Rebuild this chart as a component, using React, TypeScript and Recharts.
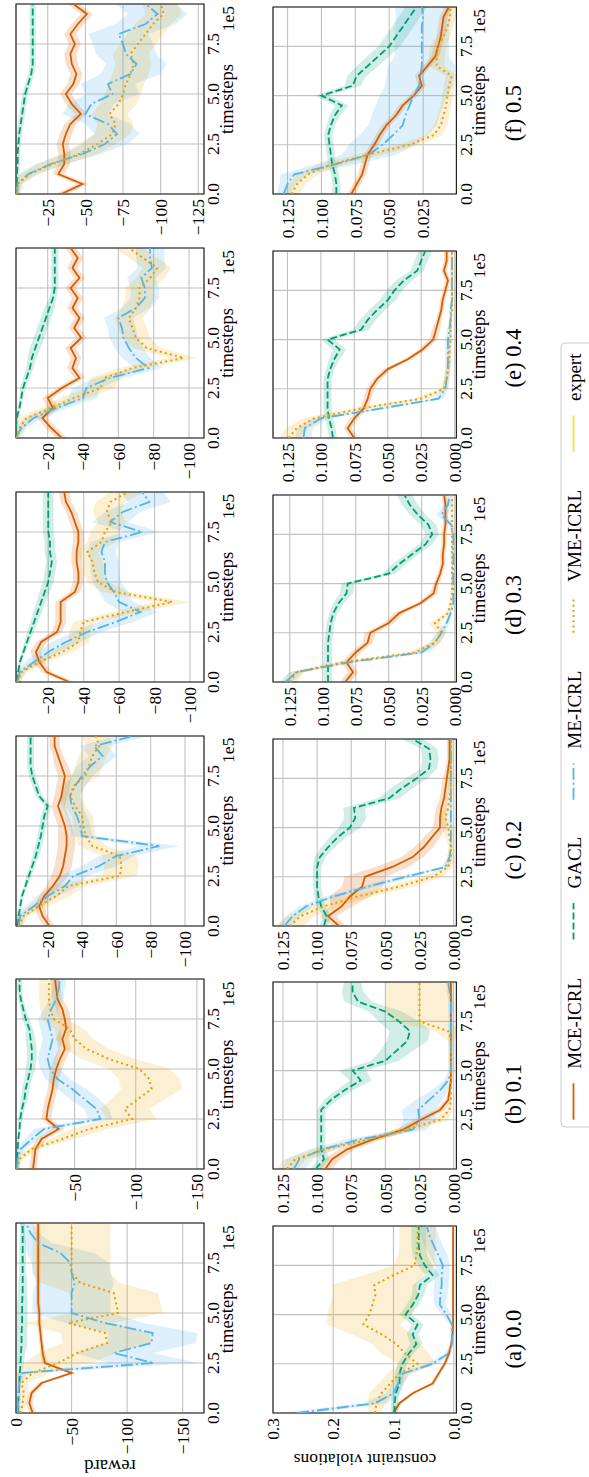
import React from 'react';
import { ComposedChart, Line, Area, XAxis, YAxis, CartesianGrid, ReferenceArea } from 'recharts';

const FONT = "'Liberation Serif', 'DejaVu Serif', serif";
const C = { mce: '#d55e00', gacl: '#009e73', me: '#56b4e9', vme: '#e69f00', expert: '#f0e442' };

// timesteps (x 1e5)
const X = [0, 0.5, 1, 1.5, 2, 2.5, 3, 3.5, 4, 4.5, 5, 5.5, 6, 6.5, 7, 7.5, 8, 8.5, 9, 9.5];

const SERIES_NAMES = ['MCE-ICRL', 'GACL', 'ME-ICRL', 'VME-ICRL', 'expert'];
const CAPTIONS = ['(a) 0.0', '(b) 0.1', '(c) 0.2', '(d) 0.3', '(e) 0.4', '(f) 0.5'];

// ---------- reward (top row) ----------
const rewA_mce = [-15, -12, -14, -23, -50, -26, -24, -23, -22, -21, -21, -20, -20, -20, -20, -20, -20, -20, -20, -20];
const rewA_mce_sd = [3, 3, 3, 3, 4, 3, 2, 2, 2, 2, 2, 2, 2, 2, 2, 2, 2, 2, 2, 2];
const rewA_gacl = [-2, -2, -2.5, -3, -3.5, -4, -4.5, -5, -5, -5.5, -5.5, -5.5, -6, -6, -6, -6, -6, -6, -6, -6];
const rewA_gacl_sd = [1, 1, 1, 1, 2, 3, 4, 5, 5, 5, 5, 5, 4, 4, 3, 3, 3, 3, 2, 2];
const rewA_me = [-1.5, -2, -2, -3, -5, -124, -88, -122, -123, -80, -50, -50, -50, -53, -50, -49, -40, -20, -13, -9];
const rewA_me_sd = [2, 2, 2, 2, 5, 40, 35, 40, 40, 35, 35, 35, 35, 35, 35, 35, 30, 12, 8, 6];
const rewA_vme = [-4, -6, -7, -5, -15, -38, -55, -82, -80, -47, -92, -90, -88, -58, -50, -50, -50, -50, -50, -50];
const rewA_vme_sd = [3, 3, 4, 6, 15, 30, 35, 40, 40, 40, 40, 40, 40, 35, 35, 35, 35, 35, 35, 35];

const rewB_mce = [-16, -17, -18, -23, -37, -27, -28, -30, -32, -33, -35, -38, -42, -40, -43, -42, -40, -36, -35, -34];
const rewB_mce_sd = [3, 3, 3, 4, 5, 4, 4, 4, 4, 4, 5, 5, 5, 5, 5, 5, 5, 4, 4, 4];
const rewB_gacl = [-2.5, -3, -3.5, -4, -5, -5.5, -7, -9, -10, -12, -14, -15, -15, -14, -13, -10, -8, -6, -5, -5];
const rewB_gacl_sd = [1, 1, 1, 1, 1.5, 2, 2, 3, 3, 3, 4, 4, 4, 4, 3, 3, 2, 2, 2, 2];
const rewB_me = [-3, -3.5, -6, -15, -25, -71, -68, -58, -48, -36, -30, -28, -30, -32, -30, -28, -31, -35, -37, -38];
const rewB_me_sd = [2, 2, 3, 6, 8, 10, 10, 12, 12, 10, 8, 8, 8, 8, 8, 8, 6, 6, 5, 5];
const rewB_vme = [-3, -5, -15, -40, -62, -97, -91, -102, -113, -111, -103, -78, -60, -50, -46, -33, -30, -29, -29, -29];
const rewB_vme_sd = [2, 3, 5, 10, 15, 20, 20, 22, 25, 25, 25, 22, 18, 15, 12, 10, 8, 8, 8, 8];

const rewC_mce = [-21, -17, -15, -18, -23, -27, -29, -30, -31, -31, -30, -28, -26, -28, -29, -30, -28, -26, -24, -24];
const rewC_mce_sd = [3, 3, 3, 3, 4, 5, 5, 5, 5, 5, 4, 4, 4, 4, 4, 4, 4, 3, 3, 3];
const rewC_gacl = [-2.5, -3, -4, -5, -7, -9, -11, -13, -14.5, -16, -17, -18, -20, -15, -13, -11, -10, -10, -10, -10];
const rewC_gacl_sd = [1, 1, 1, 1, 1, 1.5, 1.5, 2, 2, 2, 2, 2, 2, 2, 2, 2, 2, 2, 2, 2];
const rewC_me = [-3, -4, -12, -20, -30, -35, -50, -60, -85, -40, -39, -37, -34, -33, -36, -40, -45, -52, -47, -70];
const rewC_me_sd = [2, 3, 5, 6, 8, 8, 10, 10, 12, 6, 6, 6, 6, 6, 6, 6, 8, 8, 8, 10];
const rewC_vme = [-3, -6, -15, -25, -32, -62, -63, -62, -46, -42, -41, -40, -36, -33, -35, -42, -44, -46, -50, -48];
const rewC_vme_sd = [2, 3, 6, 8, 10, 10, 10, 10, 8, 6, 6, 6, 6, 6, 6, 8, 8, 8, 8, 8];

const rewD_mce = [-32, -19, -15, -13, -16, -25, -27, -27, -27, -35, -37, -37, -36, -36, -37, -37, -35, -33, -30, -29];
const rewD_mce_sd = [3, 3, 3, 3, 3, 3, 3, 3, 3, 3, 3, 3, 3, 3, 3, 3, 3, 3, 3, 3];
const rewD_gacl = [-2.5, -3, -4, -6, -8, -10, -12, -14, -16, -18, -20, -21, -22, -21, -21, -20, -20, -20, -20, -20];
const rewD_gacl_sd = [1, 1, 1, 1, 1.5, 2, 2, 2.5, 2.5, 3, 3, 3, 3, 3, 3, 3, 3, 3, 3, 3];
const rewD_me = [-2.5, -4, -12, -20, -30, -42, -58, -72, -60, -57, -53, -52, -52, -50, -52, -73, -55, -62, -77, -73];
const rewD_me_sd = [2, 3, 5, 6, 8, 8, 10, 10, 8, 8, 8, 8, 8, 8, 8, 10, 10, 10, 12, 12];
const rewD_vme = [-2.5, -5, -15, -28, -37, -38, -40, -64, -90, -58, -48, -46, -45, -42, -50, -52, -56, -53, -55, -65];
const rewD_vme_sd = [2, 3, 5, 6, 6, 6, 6, 8, 10, 8, 6, 6, 6, 6, 8, 8, 8, 8, 8, 10];

const rewE_mce = [-28, -22, -17, -23, -20, -28, -38, -34, -36, -33, -39, -35, -38, -34, -37, -33, -38, -34, -37, -33];
const rewE_mce_sd = [3, 3, 3, 3, 3, 3, 3, 3, 3, 3, 3, 3, 3, 3, 3, 3, 3, 3, 3, 3];
const rewE_gacl = [-2, -2, -2.5, -4, -5, -6, -8, -10, -11, -13, -15, -17, -19, -21, -23, -24, -24, -24, -24, -24];
const rewE_gacl_sd = [1, 1, 1, 1, 1, 1.5, 2, 2, 2.5, 3, 3, 3, 3, 3, 2, 2, 2, 2, 2, 2];
const rewE_me = [-2, -5, -12, -25, -40, -42, -55, -77, -70, -66, -63, -62, -60, -70, -75, -75, -73, -79, -78, -78];
const rewE_me_sd = [2, 3, 5, 6, 8, 8, 8, 8, 8, 8, 8, 8, 8, 8, 8, 8, 8, 8, 8, 8];
const rewE_vme = [-2, -4, -8, -22, -35, -50, -52, -68, -97, -76, -70, -68, -66, -70, -72, -72, -78, -82, -74, -66];
const rewE_vme_sd = [2, 3, 5, 6, 8, 8, 8, 8, 8, 8, 8, 8, 8, 8, 8, 8, 8, 8, 8, 8];

const rewF_mce = [-34, -48, -32, -36, -36, -35, -37, -40, -47, -41, -37, -42, -44, -41, -40, -43, -40, -45, -51, -42];
const rewF_mce_sd = [4, 4, 4, 4, 4, 4, 4, 4, 4, 4, 4, 4, 4, 4, 4, 4, 4, 4, 4, 4];
const rewF_gacl = [-4.5, -4.5, -4.5, -5, -5, -5.5, -6, -7, -8, -9, -10, -12, -14, -15, -15, -15, -15, -15, -15, -15];
const rewF_gacl_sd = [1.5, 1.5, 1.5, 1.5, 1.5, 1.5, 2, 2, 2, 2, 2, 2, 2, 2, 2, 2, 2, 2, 2, 2];
const rewF_me = [-4.5, -5, -12, -27, -48, -63, -71, -65, -50, -54, -68, -65, -80, -84, -77, -75, -72, -90, -98, -90];
const rewF_me_sd = [2, 3, 6, 10, 12, 15, 15, 15, 15, 15, 18, 18, 20, 20, 20, 20, 20, 20, 20, 20];
const rewF_vme = [-4, -5, -13, -28, -46, -58, -68, -70, -66, -72, -75, -77, -80, -82, -80, -85, -90, -95, -102, -100];
const rewF_vme_sd = [2, 3, 6, 10, 12, 12, 12, 12, 12, 12, 12, 12, 12, 12, 12, 12, 12, 12, 12, 12];

// ---------- constraint violations (bottom row) ----------
const cvA_mce = [0.1, 0.09, 0.068, 0.035, 0.025, 0.015, 0.008, 0.004, 0.002, 0.001, 0.001, 0.001, 0.001, 0.001, 0.001, 0.001, 0.001, 0.001, 0.001, 0.001];
const cvA_mce_sd = [0.004, 0.004, 0.004, 0.004, 0.003, 0.003, 0.003, 0.002, 0.001, 0.001, 0.001, 0.001, 0.001, 0.001, 0.001, 0.001, 0.001, 0.001, 0.001, 0.001];
const cvA_gacl = [0.098, 0.098, 0.096, 0.09, 0.09, 0.085, 0.075, 0.062, 0.068, 0.06, 0.08, 0.068, 0.059, 0.056, 0.035, 0.048, 0.056, 0.058, 0.058, 0.058];
const cvA_gacl_sd = [0.006, 0.006, 0.006, 0.006, 0.008, 0.008, 0.008, 0.01, 0.01, 0.01, 0.01, 0.01, 0.01, 0.012, 0.012, 0.012, 0.012, 0.012, 0.012, 0.012];
const cvA_me = [0.26, 0.13, 0.1, 0.092, 0.085, 0.035, 0.01, 0.003, 0.003, 0.003, 0.012, 0.023, 0.022, 0.02, 0.02, 0.018, 0.025, 0.033, 0.04, 0.045];
const cvA_me_sd = [0.03, 0.02, 0.012, 0.01, 0.01, 0.01, 0.005, 0.003, 0.003, 0.003, 0.008, 0.01, 0.012, 0.012, 0.012, 0.012, 0.015, 0.015, 0.015, 0.015];
const cvA_vme = [0.131, 0.128, 0.12, 0.105, 0.09, 0.06, 0.08, 0.095, 0.12, 0.15, 0.14, 0.135, 0.13, 0.132, 0.1, 0.065, 0.062, 0.06, 0.06, 0.06];
const cvA_vme_sd = [0.01, 0.015, 0.02, 0.02, 0.02, 0.03, 0.04, 0.04, 0.05, 0.06, 0.07, 0.07, 0.07, 0.07, 0.05, 0.035, 0.03, 0.03, 0.03, 0.03];

const cvB_mce = [0.094, 0.089, 0.078, 0.059, 0.037, 0.024, 0.01, 0.004, 0.003, 0.002, 0.002, 0.002, 0.002, 0.002, 0.002, 0.002, 0.002, 0.002, 0.002, 0.002];
const cvB_mce_sd = [0.005, 0.006, 0.006, 0.006, 0.006, 0.005, 0.004, 0.002, 0.001, 0.001, 0.001, 0.001, 0.001, 0.001, 0.001, 0.001, 0.001, 0.001, 0.001, 0.001];
const cvB_gacl = [0.101, 0.095, 0.097, 0.097, 0.097, 0.097, 0.097, 0.09, 0.08, 0.068, 0.074, 0.05, 0.042, 0.034, 0.032, 0.04, 0.05, 0.07, 0.074, 0.074];
const cvB_gacl_sd = [0.004, 0.004, 0.003, 0.003, 0.003, 0.003, 0.003, 0.005, 0.006, 0.008, 0.01, 0.01, 0.012, 0.015, 0.015, 0.015, 0.012, 0.01, 0.008, 0.006];
const cvB_me = [0.117, 0.113, 0.096, 0.069, 0.03, 0.025, 0.026, 0.018, 0.01, 0.004, 0.002, 0.002, 0.002, 0.002, 0.002, 0.002, 0.002, 0.002, 0.003, 0.004];
const cvB_me_sd = [0.008, 0.01, 0.01, 0.01, 0.01, 0.012, 0.012, 0.01, 0.006, 0.003, 0.002, 0.002, 0.002, 0.002, 0.002, 0.002, 0.002, 0.002, 0.002, 0.002];
const cvB_vme = [0.122, 0.116, 0.094, 0.062, 0.035, 0.01, 0.003, 0.002, 0.002, 0.002, 0.002, 0.002, 0.002, 0.002, 0.004, 0.025, 0.025, 0.025, 0.025, 0.025];
const cvB_vme_sd = [0.008, 0.008, 0.008, 0.008, 0.008, 0.006, 0.002, 0.001, 0.001, 0.001, 0.001, 0.001, 0.001, 0.002, 0.01, 0.02, 0.025, 0.025, 0.025, 0.025];

const cvC_mce = [0.084, 0.092, 0.082, 0.076, 0.067, 0.065, 0.045, 0.03, 0.022, 0.016, 0.01, 0.01, 0.009, 0.007, 0.006, 0.005, 0.004, 0.003, 0.003, 0.003];
const cvC_mce_sd = [0.005, 0.006, 0.008, 0.015, 0.015, 0.015, 0.012, 0.008, 0.007, 0.006, 0.005, 0.004, 0.004, 0.003, 0.003, 0.003, 0.002, 0.002, 0.002, 0.002];
const cvC_gacl = [0.095, 0.093, 0.097, 0.099, 0.1, 0.1, 0.1, 0.098, 0.092, 0.085, 0.076, 0.072, 0.073, 0.047, 0.038, 0.027, 0.018, 0.017, 0.018, 0.03];
const cvC_gacl_sd = [0.003, 0.003, 0.003, 0.003, 0.003, 0.003, 0.003, 0.004, 0.005, 0.006, 0.008, 0.008, 0.008, 0.008, 0.008, 0.008, 0.006, 0.006, 0.006, 0.008];
const cvC_me = [0.124, 0.118, 0.108, 0.088, 0.063, 0.035, 0.006, 0.003, 0.002, 0.002, 0.002, 0.002, 0.002, 0.002, 0.002, 0.002, 0.002, 0.002, 0.002, 0.002];
const cvC_me_sd = [0.005, 0.005, 0.005, 0.006, 0.006, 0.006, 0.003, 0.002, 0.001, 0.001, 0.001, 0.001, 0.001, 0.001, 0.001, 0.001, 0.001, 0.001, 0.001, 0.001];
const cvC_vme = [0.12, 0.112, 0.095, 0.07, 0.04, 0.015, 0.004, 0.002, 0.002, 0.003, 0.004, 0.006, 0.004, 0.003, 0.002, 0.002, 0.002, 0.002, 0.002, 0.002];
const cvC_vme_sd = [0.01, 0.01, 0.01, 0.01, 0.01, 0.008, 0.003, 0.002, 0.002, 0.003, 0.004, 0.004, 0.003, 0.002, 0.002, 0.002, 0.002, 0.002, 0.002, 0.002];

const cvD_mce = [0.083, 0.077, 0.082, 0.075, 0.066, 0.064, 0.05, 0.042, 0.026, 0.016, 0.014, 0.011, 0.009, 0.009, 0.008, 0.008, 0.007, 0.007, 0.007, 0.008];
const cvD_mce_sd = [0.004, 0.004, 0.004, 0.004, 0.004, 0.004, 0.004, 0.004, 0.003, 0.003, 0.002, 0.002, 0.002, 0.002, 0.002, 0.002, 0.002, 0.002, 0.002, 0.002];
const cvD_gacl = [0.096, 0.096, 0.096, 0.096, 0.096, 0.095, 0.094, 0.092, 0.088, 0.082, 0.081, 0.05, 0.042, 0.032, 0.022, 0.017, 0.02, 0.028, 0.034, 0.038];
const cvD_gacl_sd = [0.003, 0.003, 0.003, 0.003, 0.003, 0.003, 0.003, 0.003, 0.004, 0.005, 0.005, 0.005, 0.005, 0.005, 0.005, 0.005, 0.006, 0.006, 0.006, 0.006];
const cvD_me = [0.128, 0.12, 0.08, 0.025, 0.015, 0.01, 0.006, 0.003, 0.001, 0.001, 0.001, 0.001, 0.001, 0.001, 0.001, 0.001, 0.003, 0.01, 0.005, 0.004];
const cvD_me_sd = [0.005, 0.005, 0.006, 0.006, 0.004, 0.003, 0.002, 0.001, 0.001, 0.001, 0.001, 0.001, 0.001, 0.001, 0.001, 0.001, 0.002, 0.004, 0.003, 0.002];
const cvD_vme = [0.125, 0.12, 0.085, 0.03, 0.015, 0.01, 0.015, 0.005, 0.003, 0.002, 0.002, 0.002, 0.002, 0.002, 0.002, 0.002, 0.002, 0.002, 0.002, 0.002];
const cvD_vme_sd = [0.005, 0.006, 0.006, 0.006, 0.004, 0.004, 0.004, 0.002, 0.001, 0.001, 0.001, 0.001, 0.001, 0.001, 0.001, 0.001, 0.001, 0.001, 0.001, 0.001];

const cvE_mce = [0.075, 0.08, 0.075, 0.068, 0.065, 0.063, 0.058, 0.05, 0.035, 0.024, 0.016, 0.014, 0.012, 0.01, 0.009, 0.007, 0.005, 0.008, 0.006, 0.006];
const cvE_mce_sd = [0.003, 0.003, 0.003, 0.003, 0.003, 0.003, 0.003, 0.003, 0.003, 0.003, 0.003, 0.003, 0.002, 0.002, 0.002, 0.002, 0.002, 0.002, 0.002, 0.002];
const cvE_gacl = [0.091, 0.092, 0.094, 0.095, 0.095, 0.095, 0.095, 0.093, 0.09, 0.086, 0.095, 0.07, 0.065, 0.058, 0.05, 0.045, 0.038, 0.028, 0.025, 0.022];
const cvE_gacl_sd = [0.003, 0.003, 0.003, 0.003, 0.003, 0.003, 0.003, 0.003, 0.004, 0.005, 0.005, 0.006, 0.006, 0.006, 0.006, 0.006, 0.006, 0.005, 0.005, 0.005];
const cvE_me = [0.113, 0.112, 0.1, 0.055, 0.012, 0.007, 0.006, 0.005, 0.005, 0.005, 0.005, 0.004, 0.003, 0.003, 0.002, 0.002, 0.002, 0.002, 0.002, 0.002];
const cvE_me_sd = [0.006, 0.006, 0.006, 0.006, 0.004, 0.002, 0.002, 0.002, 0.002, 0.002, 0.002, 0.002, 0.001, 0.001, 0.001, 0.001, 0.001, 0.001, 0.001, 0.001];
const cvE_vme = [0.124, 0.118, 0.105, 0.07, 0.025, 0.008, 0.006, 0.005, 0.004, 0.004, 0.003, 0.003, 0.003, 0.002, 0.002, 0.002, 0.002, 0.002, 0.002, 0.002];
const cvE_vme_sd = [0.008, 0.008, 0.008, 0.008, 0.006, 0.003, 0.002, 0.002, 0.002, 0.002, 0.001, 0.001, 0.001, 0.001, 0.001, 0.001, 0.001, 0.001, 0.001, 0.001];

const cvF_mce = [0.078, 0.074, 0.07, 0.068, 0.066, 0.061, 0.057, 0.052, 0.045, 0.04, 0.032, 0.026, 0.028, 0.022, 0.016, 0.014, 0.012, 0.011, 0.01, 0.006];
const cvF_mce_sd = [0.003, 0.003, 0.003, 0.003, 0.003, 0.003, 0.003, 0.003, 0.003, 0.003, 0.003, 0.003, 0.003, 0.003, 0.003, 0.003, 0.003, 0.003, 0.003, 0.003];
const cvF_gacl = [0.089, 0.089, 0.09, 0.092, 0.093, 0.094, 0.095, 0.093, 0.09, 0.085, 0.1, 0.077, 0.074, 0.066, 0.058, 0.05, 0.045, 0.04, 0.035, 0.03];
const cvF_gacl_sd = [0.003, 0.003, 0.003, 0.003, 0.003, 0.003, 0.003, 0.003, 0.004, 0.005, 0.005, 0.006, 0.007, 0.008, 0.008, 0.008, 0.008, 0.008, 0.008, 0.008];
const cvF_me = [0.128, 0.125, 0.12, 0.09, 0.065, 0.055, 0.047, 0.04, 0.038, 0.035, 0.032, 0.028, 0.027, 0.026, 0.026, 0.026, 0.026, 0.026, 0.025, 0.026];
const cvF_me_sd = [0.005, 0.006, 0.01, 0.015, 0.02, 0.025, 0.025, 0.025, 0.025, 0.025, 0.025, 0.025, 0.025, 0.025, 0.02, 0.02, 0.02, 0.02, 0.02, 0.02];
const cvF_vme = [0.122, 0.118, 0.11, 0.093, 0.065, 0.035, 0.017, 0.012, 0.01, 0.008, 0.007, 0.006, 0.004, 0.015, 0.015, 0.014, 0.01, 0.007, 0.005, 0.005];
const cvF_vme_sd = [0.006, 0.006, 0.008, 0.01, 0.01, 0.008, 0.006, 0.005, 0.004, 0.004, 0.004, 0.004, 0.004, 0.006, 0.006, 0.006, 0.005, 0.004, 0.004, 0.004];

// ---------- axis ticks / domains ----------
const rewTicks = [
  [0, -50, -100, -150],
  [-50, -100, -150],
  [-20, -40, -60, -80, -100],
  [-20, -40, -60, -80, -100],
  [-20, -40, -60, -80, -100],
  [-25, -50, -75, -100, -125],
];
const rewDomains = [
  [-169.2, 0],
  [-155.8, -2.1],
  [-111.1, -1.5],
  [-107.9, -1.8],
  [-108.5, -2.05],
  [-128.8, -3.9],
];
const cvTicks = [
  [0, 0.1, 0.2, 0.3],
  [0, 0.025, 0.05, 0.075, 0.1, 0.125],
  [0, 0.025, 0.05, 0.075, 0.1, 0.125],
  [0, 0.025, 0.05, 0.075, 0.1, 0.125],
  [0, 0.025, 0.05, 0.075, 0.1, 0.125],
  [0.025, 0.05, 0.075, 0.1, 0.125],
];
const cvDomains = [
  [-0.0045, 0.3],
  [-0.002, 0.1323],
  [-0.002, 0.1323],
  [-0.0013, 0.1377],
  [-0.0013, 0.1358],
  [0.0005, 0.1357],
];
const xTicks = [0, 2.5, 5, 7.5];

const band = (m: number[], s: number[]) => m.map((v, i) => [v - s[i], v + s[i]]);

function buildRows(mce: number[], mceSd: number[], gacl: number[], gaclSd: number[], me: number[], meSd: number[], vme: number[], vmeSd: number[]) {
  const bm = band(mce, mceSd), bg = band(gacl, gaclSd), be = band(me, meSd), bv = band(vme, vmeSd);
  return X.map((x, i) => ({
    x,
    mce: mce[i], gacl: gacl[i], me: me[i], vme: vme[i],
    mceBand: bm[i], gaclBand: bg[i], meBand: be[i], vmeBand: bv[i],
  }));
}

const rewRows = [
  buildRows(rewA_mce, rewA_mce_sd, rewA_gacl, rewA_gacl_sd, rewA_me, rewA_me_sd, rewA_vme, rewA_vme_sd),
  buildRows(rewB_mce, rewB_mce_sd, rewB_gacl, rewB_gacl_sd, rewB_me, rewB_me_sd, rewB_vme, rewB_vme_sd),
  buildRows(rewC_mce, rewC_mce_sd, rewC_gacl, rewC_gacl_sd, rewC_me, rewC_me_sd, rewC_vme, rewC_vme_sd),
  buildRows(rewD_mce, rewD_mce_sd, rewD_gacl, rewD_gacl_sd, rewD_me, rewD_me_sd, rewD_vme, rewD_vme_sd),
  buildRows(rewE_mce, rewE_mce_sd, rewE_gacl, rewE_gacl_sd, rewE_me, rewE_me_sd, rewE_vme, rewE_vme_sd),
  buildRows(rewF_mce, rewF_mce_sd, rewF_gacl, rewF_gacl_sd, rewF_me, rewF_me_sd, rewF_vme, rewF_vme_sd),
];
const cvRows = [
  buildRows(cvA_mce, cvA_mce_sd, cvA_gacl, cvA_gacl_sd, cvA_me, cvA_me_sd, cvA_vme, cvA_vme_sd),
  buildRows(cvB_mce, cvB_mce_sd, cvB_gacl, cvB_gacl_sd, cvB_me, cvB_me_sd, cvB_vme, cvB_vme_sd),
  buildRows(cvC_mce, cvC_mce_sd, cvC_gacl, cvC_gacl_sd, cvC_me, cvC_me_sd, cvC_vme, cvC_vme_sd),
  buildRows(cvD_mce, cvD_mce_sd, cvD_gacl, cvD_gacl_sd, cvD_me, cvD_me_sd, cvD_vme, cvD_vme_sd),
  buildRows(cvE_mce, cvE_mce_sd, cvE_gacl, cvE_gacl_sd, cvE_me, cvE_me_sd, cvE_vme, cvE_vme_sd),
  buildRows(cvF_mce, cvF_mce_sd, cvF_gacl, cvF_gacl_sd, cvF_me, cvF_me_sd, cvF_vme, cvF_vme_sd),
];

// ---------- layout (landscape figure, later rotated) ----------
const FIG_W = 1477;
const FIG_H = 589;
const COL_LEFT = [63.7, 307.6, 551.4, 795.3, 1039.1, 1283];
const TOP_ROW = { top: 16, height: 188, width: 190 };
const BOT_ROW = { top: 273.3, height: 183.4, width: 187 };
const CAPTION_X = [138, 383, 627, 872, 1119, 1364];
const Y_AXIS_W = 60;
const X_AXIS_H = 40;
const M_TOP = 13;
const M_RIGHT = 6;
const TICK_FS = 17.5;

const fmtRew = (v: number) => (v === 0 ? '0' : v < 0 ? '\u2212' + Math.abs(v) : String(v));
const fmtCvA = (v: number) => v.toFixed(1);
const fmtCv = (v: number) => v.toFixed(3);

const LINE_W = 1.8;
const DASH = { mce: undefined, gacl: '7 3', me: '12 3 2 3', vme: '2 3.2' } as Record<string, string | undefined>;

function Panel(props: { left: number; top: number; width: number; height: number; rows: any[]; domain: number[]; ticks: number[]; fmt: (v: number) => string }) {
  const { left, top, width, height, rows, domain, ticks, fmt } = props;
  const W = Y_AXIS_W + width + M_RIGHT;
  const H = M_TOP + height + X_AXIS_H;
  const tickStyle = { fontSize: TICK_FS, fill: '#000', fontFamily: FONT };
  return (
    <div style={{ position: 'absolute', left: left - Y_AXIS_W, top: top - M_TOP, width: W, height: H }}>
      <ComposedChart width={W} height={H} data={rows} margin={{ top: M_TOP, right: M_RIGHT, bottom: 0, left: 0 }}>
        <CartesianGrid stroke="#c2c2c2" strokeWidth={1.1} />
        <XAxis dataKey="x" type="number" domain={[0, 9.5]} allowDataOverflow ticks={xTicks} interval={0}
          tickFormatter={(v: number) => v.toFixed(1)} height={X_AXIS_H} tickLine={false} axisLine={false}
          tickSize={0} tickMargin={3} tick={tickStyle} />
        <YAxis type="number" domain={domain} allowDataOverflow ticks={ticks} interval={0} tickFormatter={fmt}
          width={Y_AXIS_W} tickLine={false} axisLine={false} tickSize={0} tickMargin={5} tick={tickStyle} />
        <Area type="linear" dataKey="mceBand" stroke="none" fill={C.mce} fillOpacity={0.2} isAnimationActive={false} />
        <Area type="linear" dataKey="gaclBand" stroke="none" fill={C.gacl} fillOpacity={0.18} isAnimationActive={false} />
        <Area type="linear" dataKey="meBand" stroke="none" fill={C.me} fillOpacity={0.2} isAnimationActive={false} />
        <Area type="linear" dataKey="vmeBand" stroke="none" fill={C.vme} fillOpacity={0.17} isAnimationActive={false} />
        <Line type="linear" dataKey="mce" stroke={C.mce} strokeWidth={LINE_W} dot={false} isAnimationActive={false} />
        <Line type="linear" dataKey="gacl" stroke={C.gacl} strokeWidth={LINE_W} strokeDasharray={DASH.gacl} dot={false} isAnimationActive={false} />
        <Line type="linear" dataKey="me" stroke={C.me} strokeWidth={LINE_W} strokeDasharray={DASH.me} dot={false} isAnimationActive={false} />
        <Line type="linear" dataKey="vme" stroke={C.vme} strokeWidth={LINE_W + 0.2} strokeDasharray={DASH.vme} dot={false} isAnimationActive={false} />
        <ReferenceArea x1={0} x2={9.5} y1={domain[0]} y2={domain[1]} fill="none" fillOpacity={0} stroke="#1a1a1a" strokeWidth={1.1} ifOverflow="visible" />
      </ComposedChart>
    </div>
  );
}

const LEGEND = {
  box: { x: 350, y: 561, w: 784, h: 40 },
  lineY: 573.5,
  textY: 580.5,
  lineX: [357.3, 537.5, 677.3, 844.3, 1025],
  textX: [408.3, 588.5, 728.3, 895.3, 1076],
  handle: 36.4,
};

function Overlay() {
  const lab = { fontFamily: FONT, fill: '#000' } as const;
  const colors = [C.mce, C.gacl, C.me, C.vme, C.expert];
  const dashes = [undefined, DASH.gacl, DASH.me, DASH.vme, undefined];
  return (
    <svg width={FIG_W} height={FIG_H} style={{ position: 'absolute', left: 0, top: 0, pointerEvents: 'none' }}>
      <text {...lab} fontSize={18.5} textAnchor="middle" transform={`translate(17, ${TOP_ROW.top + TOP_ROW.height / 2}) rotate(-90)`}>reward</text>
      <text {...lab} fontSize={17.5} textAnchor="middle" transform={`translate(23, ${BOT_ROW.top + BOT_ROW.height / 2}) rotate(-90)`}>constraint violations</text>
      {COL_LEFT.map((l, i) => (
        <g key={i}>
          <text {...lab} fontSize={18.5} textAnchor="middle" x={l + TOP_ROW.width / 2} y={TOP_ROW.top + TOP_ROW.height + 29}>timesteps</text>
          <text {...lab} fontSize={TICK_FS} textAnchor="end" x={l + TOP_ROW.width - 2} y={TOP_ROW.top + TOP_ROW.height + 29.5}>1e5</text>
          <text {...lab} fontSize={18.5} textAnchor="middle" x={l + BOT_ROW.width / 2} y={BOT_ROW.top + BOT_ROW.height + 28}>timesteps</text>
          <text {...lab} fontSize={TICK_FS} textAnchor="end" x={l + BOT_ROW.width - 2} y={BOT_ROW.top + BOT_ROW.height + 28.5}>1e5</text>
          <text {...lab} fontSize={22.5} textAnchor="middle" x={CAPTION_X[i]} y={521}>{CAPTIONS[i]}</text>
        </g>
      ))}
      <rect x={LEGEND.box.x} y={LEGEND.box.y} width={LEGEND.box.w} height={LEGEND.box.h} rx={4} ry={4} fill="#fff" fillOpacity={0.8} stroke="#cccccc" strokeWidth={1} />
      {SERIES_NAMES.map((n, i) => (
        <g key={n}>
          <line x1={LEGEND.lineX[i]} x2={LEGEND.lineX[i] + LEGEND.handle} y1={LEGEND.lineY} y2={LEGEND.lineY} stroke={colors[i]} strokeWidth={i === 3 ? 2 : LINE_W} strokeDasharray={dashes[i]} />
          <text {...lab} fontSize={19} x={LEGEND.textX[i]} y={LEGEND.textY}>{n}</text>
        </g>
      ))}
    </svg>
  );
}

export default function App() {
  return (
    <div style={{ position: 'absolute', left: 0, top: 0, width: FIG_H, height: FIG_W, overflow: 'hidden', background: '#fff' }}>
      <div style={{ position: 'absolute', left: 0, top: 0, width: FIG_W, height: FIG_H, transform: `translateY(${FIG_W}px) rotate(-90deg)`, transformOrigin: '0 0', fontFamily: FONT }}>
        {COL_LEFT.map((l, i) => (
          <Panel key={'r' + i} left={l} top={TOP_ROW.top} width={TOP_ROW.width} height={TOP_ROW.height} rows={rewRows[i]} domain={rewDomains[i]} ticks={rewTicks[i]} fmt={fmtRew} />
        ))}
        {COL_LEFT.map((l, i) => (
          <Panel key={'c' + i} left={l} top={BOT_ROW.top} width={BOT_ROW.width} height={BOT_ROW.height} rows={cvRows[i]} domain={cvDomains[i]} ticks={cvTicks[i]} fmt={i === 0 ? fmtCvA : fmtCv} />
        ))}
        <Overlay />
      </div>
    </div>
  );
}
